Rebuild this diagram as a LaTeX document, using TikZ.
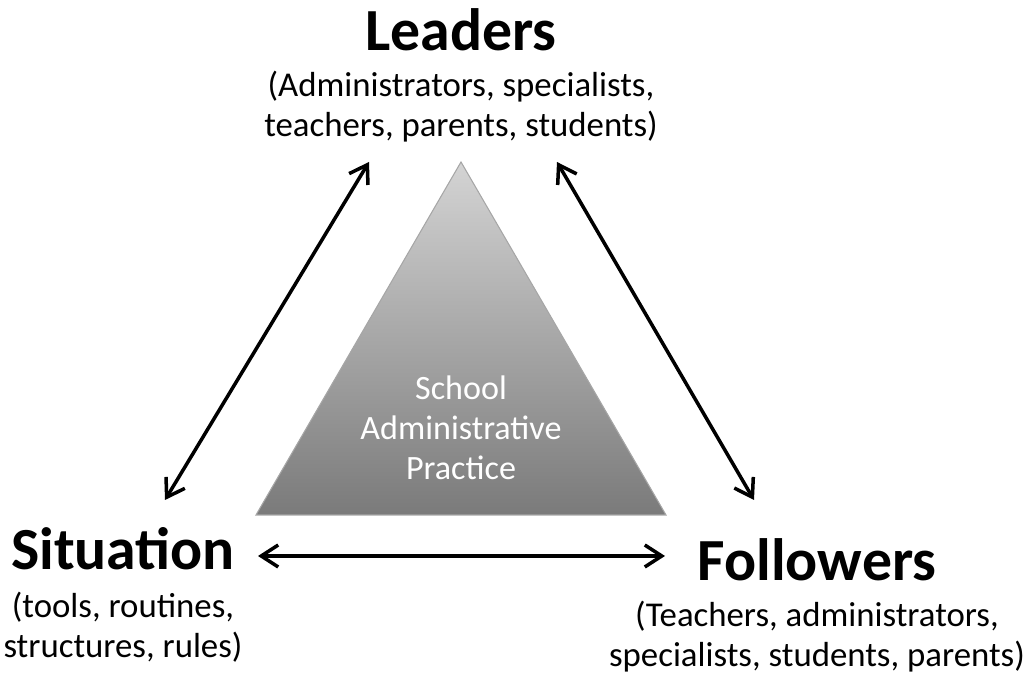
\documentclass[tikz,border=0pt]{standalone}
\usepackage{fontspec}
\setmainfont{Carlito}
\usetikzlibrary{arrows.meta}

\begin{document}
\begin{tikzpicture}[
	title/.style={font=\fontsize{17}{20}\selectfont\bfseries,inner sep=0pt,anchor=base},
	sub/.style={font=\fontsize{9.9}{11.5}\selectfont,align=center,inner sep=0pt,anchor=base},
	link/.style={<->,>={Straight Barb[length=1.7mm,width=2.2mm,line width=1pt]},line width=1pt,draw=black}]

	\useasboundingbox (0,0) rectangle (10.24,6.79);

	% triangle in the middle
	\shade[top color=black!17,bottom color=black!52,draw=black!35,line width=0.3pt]
		(4.61,5.17) -- (6.66,1.64) -- (2.56,1.64) -- cycle;
	\node[sub,text=white,font=\fontsize{9.7}{11.5}\selectfont] (practice) at (4.61,1.99) {School\\Administrative\\Practice};

	% the three corners
	\node[title] (leaders) at (4.61,6.28) {Leaders};
	\node[sub] (leaderssub) at (4.61,5.42) {(Administrators, specialists,\\teachers, parents, students)};
	\node[title] (situation) at (1.23,1.09) {Situation};
	\node[sub] (situationsub) at (1.23,0.21) {(tools, routines,\\structures, rules)};
	\node[title] (followers) at (8.17,0.98) {Followers};
	\node[sub] (followerssub) at (8.17,0.12) {(Teachers, administrators,\\specialists, students, parents)};

	\coordinate (ls) at (1.65,1.79);
	\coordinate (ll) at (3.69,5.17);
	\coordinate (lf) at (5.57,5.17);
	\coordinate (fl) at (7.54,1.79);
	\coordinate (sf) at (2.58,1.23);
	\coordinate (fs) at (6.65,1.23);

	\path[link] (ls) -- (ll);
	\path[link] (lf) -- (fl);
	\path[link] (sf) -- (fs);

\end{tikzpicture}
\end{document}
